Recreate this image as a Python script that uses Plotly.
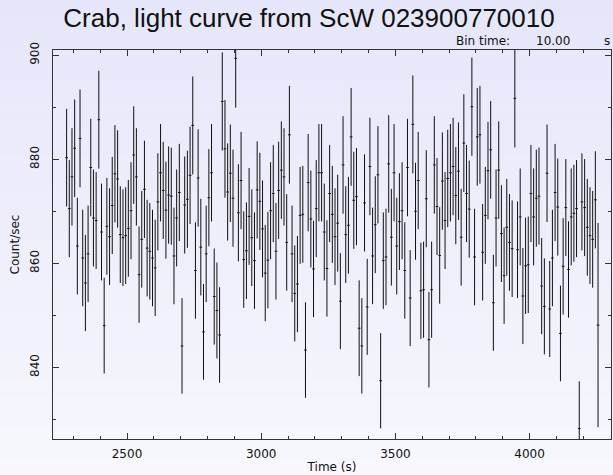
import math
import plotly.graph_objects as go

# ---------------- data ----------------
BIN_SIZE = 10.0          # s
T_START = 2275.0         # centre of first bin (s)

rate = [
    880.3, 870.5, 876.6, 882.1, 863.3, 884.0, 861.0, 856.2, 861.8, 878.4,
    868.7, 868.2, 887.6, 866.0, 848.0, 867.1, 865.1, 871.1, 877.2, 876.2,
    865.5, 864.9, 865.3, 866.7, 870.1, 880.8, 876.6, 857.8, 864.6, 874.2,
    862.9, 862.3, 861.0, 859.1, 871.8, 877.4, 874.0, 870.2, 873.1, 872.9,
    861.4, 868.7, 873.6, 844.1, 871.2, 872.3, 876.9, 886.5, 858.6, 876.4,
    863.1, 846.8, 861.8, 872.6, 877.4, 853.6, 850.9, 846.2, 891.1, 882.0,
    873.7, 877.3, 872.5, 899.4, 869.7, 875.9, 860.7, 862.4, 869.0, 864.9,
    860.5, 874.1, 871.9, 866.6, 858.1, 860.6, 870.1, 873.4, 862.3, 874.0,
    877.9, 876.6, 864.0, 884.7, 861.8, 854.2, 856.0, 869.2, 869.4, 843.3,
    875.5, 868.5, 858.9, 870.5, 877.4, 877.4, 866.0, 859.0, 873.4, 869.4,
    865.1, 867.7, 852.7, 878.9, 865.5, 867.3, 884.3, 872.1, 872.8, 847.5,
    844.1, 871.6, 851.6, 878.6, 861.4, 867.4, 877.0, 837.4, 860.5, 861.2,
    879.1, 865.0, 877.4, 863.3, 868.0, 870.1, 858.6, 878.4, 853.3, 886.7,
    870.0, 875.9, 854.7, 854.9, 872.4, 845.3, 854.9, 878.9, 870.9, 861.5,
    875.8, 868.2, 876.3, 877.4, 878.6, 873.0, 877.7, 865.0, 883.1, 873.4,
    870.4, 890.1, 861.2, 884.3, 884.7, 862.1, 869.2, 877.8, 881.8, 852.4,
    868.7, 877.9, 865.7, 857.6, 866.9, 864.0, 862.8, 891.7, 862.6, 868.9,
    853.7, 859.5, 859.7, 873.4, 868.9, 872.5, 872.9, 855.6, 851.7, 877.3,
    851.2, 861.0, 873.6, 870.8, 846.5, 859.4, 870.7, 858.8, 868.9, 869.6,
    870.5, 828.2, 871.8, 870.7, 866.9, 865.3, 864.6, 872.2, 848.1,
]
# fractional exposure of each bin (last bin only partially exposed)
exposure = [1.0] * (len(rate) - 1) + [0.22]

time = [T_START + BIN_SIZE * i for i in range(len(rate))]
# Poisson errors of the binned count rate
rate_err = [math.sqrt(r * BIN_SIZE * f) / (BIN_SIZE * f) for r, f in zip(rate, exposure)]

x_ticks = [2500, 3000, 3500, 4000]
y_ticks = [840, 860, 880, 900]

TITLE = "Crab, light curve from ScW 023900770010"

# ---------------- figure ----------------
W, H = 613, 475
L, R, T, B = 53, 2, 50, 36
pw, ph = W - L - R, H - T - B

def px_x(px):
    return (px - L) / pw

def px_y(py):
    return (H - B - py) / ph

fig = go.Figure()
fig.add_trace(go.Scatter(
    x=time, y=rate,
    mode="markers",
    marker=dict(size=0.1, color="black"),
    error_y=dict(type="data", array=rate_err, visible=True,
                 color="#111111", thickness=1, width=0),
    error_x=dict(type="constant", value=BIN_SIZE / 2, visible=True,
                 color="#111111", thickness=1, width=0),
    showlegend=False,
    hoverinfo="x+y",
))

# light lavender vertical gradient background
n_bands = 30
top_c = (230, 230, 250)
bot_c = (247, 247, 253)
shapes = []
for i in range(n_bands):
    f = i / (n_bands - 1)
    c = tuple(round(top_c[k] + (bot_c[k] - top_c[k]) * f) for k in range(3))
    y1 = px_y(H * i / n_bands)
    y0 = px_y(H * (i + 1) / n_bands)
    shapes.append(dict(type="rect", xref="paper", yref="paper",
                       x0=px_x(0), x1=px_x(W), y0=y0, y1=y1,
                       fillcolor="rgb(%d,%d,%d)" % c, line=dict(width=0),
                       layer="below"))

axis_font = dict(family="DejaVu Sans, sans-serif", size=12, color="#111111")
small_font = dict(family="DejaVu Sans, sans-serif", size=12, color="#111111")

fig.update_layout(
    width=W, height=H,
    margin=dict(l=L, r=R, t=T, b=B),
    paper_bgcolor="rgb(238,238,251)",
    plot_bgcolor="rgba(0,0,0,0)",
    shapes=shapes,
    title=dict(text=TITLE, x=px_x(309), xanchor="center", xref="paper",
               y=1 - 18 / H, yanchor="middle",
               font=dict(family="Liberation Sans, Arial, sans-serif", size=26, color="#111111")),
    xaxis=dict(
        range=[2224.3, 4303.3],
        tickmode="array", tickvals=x_ticks, ticktext=[str(v) for v in x_ticks],
        ticks="inside", ticklen=6, tickwidth=1, tickcolor="#333333",
        minor=dict(dtick=100, tick0=0, ticks="inside", ticklen=3, tickwidth=1, tickcolor="#333333"),
        showline=True, linecolor="#333333", linewidth=1, mirror="allticks",
        showgrid=False, zeroline=False,
        tickfont=axis_font, ticklabelstandoff=4,
        title=dict(text="Time (s)", font=axis_font, standoff=2),
    ),
    yaxis=dict(
        range=[826.2, 901.0],
        tickmode="array", tickvals=y_ticks, ticktext=[str(v) for v in y_ticks],
        tickangle=-90,
        ticks="inside", ticklen=6, tickwidth=1, tickcolor="#333333",
        minor=dict(dtick=10, tick0=0, ticks="inside", ticklen=3, tickwidth=1, tickcolor="#333333"),
        showline=True, linecolor="#333333", linewidth=1, mirror="allticks",
        showgrid=False, zeroline=False,
        tickfont=axis_font, ticklabelstandoff=8,
        title=dict(text="Count/sec", font=axis_font, standoff=6),
    ),
    annotations=[
        dict(text="Bin time:", xref="paper", yref="paper", x=px_x(512), y=px_y(41),
             xanchor="right", yanchor="middle", showarrow=False, font=small_font),
        dict(text="10.00", xref="paper", yref="paper", x=px_x(572), y=px_y(41),
             xanchor="right", yanchor="middle", showarrow=False, font=small_font),
        dict(text="s", xref="paper", yref="paper", x=px_x(612), y=px_y(41),
             xanchor="right", yanchor="middle", showarrow=False, font=small_font),
    ],
)

fig.write_html("out.html")
